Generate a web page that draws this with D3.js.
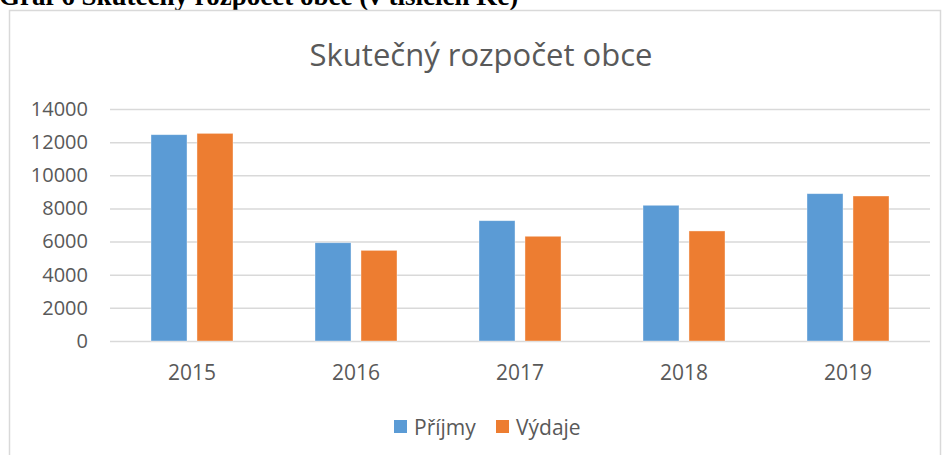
<!DOCTYPE html>
<html>
<head>
<meta charset="utf-8">
<script src="https://cdn.jsdelivr.net/npm/d3@7"></script>
<style>
  body { margin: 0; background: #fff; }
  svg { display: block; }
</style>
</head>
<body>
<svg id="chart" width="942" height="455"></svg>
<script>
// data
const years = ['2015', '2016', '2017', '2018', '2019']
const prijmy = [12450, 5930, 7260, 8190, 8890]
const vydaje = [12530, 5470, 6320, 6640, 8750]
const seriesNames = ['Příjmy', 'Výdaje']
const yTicks = [0, 2000, 4000, 6000, 8000, 10000, 12000, 14000]

const colors = ['#5b9bd5', '#ed7d31']
const font = '"Open Sans", sans-serif'

const svg = d3.select('#chart')

// caption above the chart (clipped at top in the source)
svg.append('text')
    .attr('x', -1)
    .attr('y', 5)
    .text('Graf 6 Skutečný rozpočet obce (v tisících Kč)')
    .style('font-family', '"Liberation Serif", serif')
    .style('font-weight', 'bold')
    .style('font-size', '27px')
    .style('fill', '#000')

// chart frame
svg.append('rect')
    .attr('x', 9.5).attr('y', 10.5)
    .attr('width', 931).attr('height', 460)
    .attr('fill', '#fff')
    .attr('stroke', '#d9d9d9')
    .attr('stroke-width', 1.5)

svg.append('text')
    .attr('x', 481)
    .attr('y', 66)
    .text('Skutečný rozpočet obce')
    .style('font-family', font)
    .style('font-size', '31px')
    .style('fill', '#595959')
    .style('text-anchor', 'middle')

const plotL = 110, plotR = 930, plotT = 109, plotB = 341

const x0 = d3.scaleBand().domain(years).range([plotL, plotR])
const bw = x0.bandwidth()
const x1 = d3.scaleBand().domain(seriesNames)
    .range([bw / 2 - 41, bw / 2 + 41])
    .paddingInner(0.217)
const y = d3.scaleLinear().domain([0, 14000]).range([plotB, plotT])

// gridlines + y labels
const yAxis = d3.axisLeft(y).tickValues(yTicks).tickFormat(d3.format('d'))
    .tickSize(-(plotR - plotL)).tickPadding(22)
const gy = svg.append('g').attr('transform', `translate(${plotL},0)`).call(yAxis)
gy.select('.domain').remove()
gy.selectAll('line').attr('stroke', '#d9d9d9').attr('stroke-width', 1.5)
gy.selectAll('text')
    .style('font-family', font)
    .style('font-size', '20px')
    .style('fill', '#595959')

// bars
const rows = years.map((yr, i) => ({year: yr, vals: [prijmy[i], vydaje[i]]}))
const groups = svg.append('g').selectAll('g')
    .data(rows)
    .join('g')
    .attr('transform', d => `translate(${x0(d.year)},0)`)

groups.selectAll('rect')
    .data(d => d.vals.map((v, k) => ({name: seriesNames[k], value: v, k: k})))
    .join('rect')
    .attr('x', d => x1(d.name))
    .attr('y', d => y(d.value))
    .attr('width', x1.bandwidth())
    .attr('height', d => y(0) - y(d.value))
    .attr('fill', d => colors[d.k])
    .attr('stroke', '#fff')
    .attr('stroke-opacity', 0.5)
    .attr('stroke-width', 0.75)

// x labels
const xAxis = d3.axisBottom(x0).tickSize(0).tickPadding(0)
const gx = svg.append('g').attr('transform', `translate(0,${plotB})`).call(xAxis)
gx.select('.domain').remove()
gx.selectAll('text')
    .attr('y', 39)
    .attr('dy', 0)
    .style('font-family', font)
    .style('font-size', '21px')
    .style('fill', '#595959')

// legend
const legend = svg.append('g')
const items = [
    {name: seriesNames[0], color: colors[0], x: 394},
    {name: seriesNames[1], color: colors[1], x: 496}
]
const li = legend.selectAll('g').data(items).join('g')
    .attr('transform', d => `translate(${d.x},420)`)
li.append('rect')
    .attr('width', 13).attr('height', 13)
    .attr('fill', d => d.color)
li.append('text')
    .attr('x', 20).attr('y', 15)
    .text(d => d.name)
    .style('font-family', font)
    .style('font-size', '21px')
    .style('fill', '#595959')
</script>
</body>
</html>
